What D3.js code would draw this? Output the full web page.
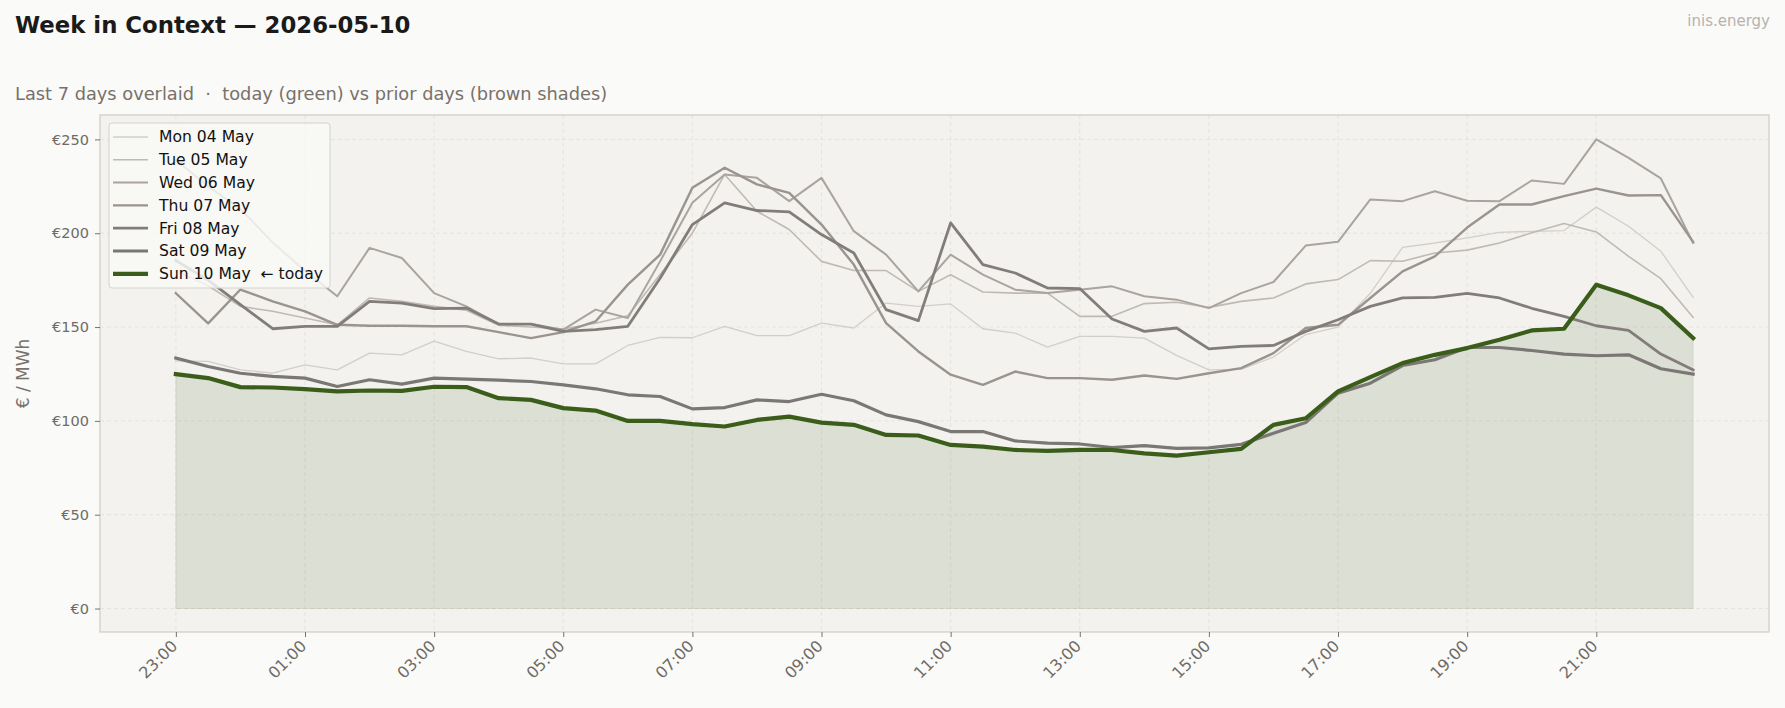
<!DOCTYPE html>
<html>
<head>
<meta charset="utf-8">
<style>
  body {
    margin: 0;
    padding: 0;
    background: #fafaf8;
    font-family: "DejaVu Sans", sans-serif;
  }
  svg { display: block; }
  text { white-space: pre; }
</style>
</head>
<body>
<div id="chart"></div>

<script src="https://cdnjs.cloudflare.com/ajax/libs/d3/7.8.5/d3.min.js"></script>
<script>
  // half-hourly prices, 23:00 -> 22:30 (48 slots)
  const dayLabels = ["Mon 04 May", "Tue 05 May", "Wed 06 May", "Thu 07 May", "Fri 08 May", "Sat 09 May", "Sun 10 May  \u2190 today"];

  const mon = [132, 131.7, 127.2, 125.4, 129.9, 127.2, 136.1, 135.2, 142.5, 137, 133.1, 133.5, 130.4, 130.4, 140.2, 144.5, 144.3, 150.4, 145.4, 145.4, 152.1, 149.5, 162.8, 161, 162.3, 149.1, 146.8, 139.3, 145, 145, 144.1, 134.9, 127.2, 127.5, 134, 146, 150, 168, 192.5, 194.8, 197.5, 200.5, 201, 201.4, 213.9, 203.7, 190.4, 165.8];
  const tue = [180, 172, 161, 158.4, 154.8, 151.2, 165.5, 163.7, 161, 159, 151, 150, 149, 152, 156, 178, 200, 231.3, 211.7, 202, 185, 180.1, 180.1, 169, 177.9, 168.7, 168.1, 168.1, 155.7, 155.7, 162.5, 163.2, 160.5, 163.7, 165.5, 173, 175.3, 185.4, 185.1, 189.5, 191, 194.8, 200.2, 205.2, 200.7, 187.7, 175.8, 155.2];
  const wed = [239, 225, 213, 195, 180, 166.4, 192.2, 186.8, 168.1, 161, 151.6, 151.6, 148.6, 159.3, 154.8, 185, 216.2, 231.3, 229.5, 217.1, 229.5, 201.1, 188.6, 169, 188.6, 177.9, 169.9, 168.1, 169.9, 171.7, 166.4, 164.6, 160.1, 168.1, 174, 193.4, 195.4, 218, 217.1, 222.4, 217.3, 217.1, 228.1, 226.3, 250, 240.2, 229.2, 194.8];
  const thu = [168, 152, 170, 163.7, 158.4, 151.2, 150.7, 150.7, 150.4, 150.4, 147.3, 144.1, 147.3, 153, 172.6, 188.6, 224.2, 234.9, 226, 221.5, 204.6, 183.3, 152.1, 137, 124.6, 119.2, 126.3, 122.8, 122.8, 121.9, 124.2, 122.4, 125.4, 128.1, 136.1, 149.5, 151.2, 165.5, 179.7, 187.7, 203, 215.3, 215.3, 219.8, 223.8, 220.1, 220.3, 195.4];
  const fri = [185.5, 175, 161.9, 149.1, 150.4, 150.4, 163.7, 162.8, 159.8, 160.1, 151.6, 151.6, 147.7, 148.6, 150.4, 176, 204.6, 216.2, 212.1, 211.4, 199.3, 189.5, 159.3, 153.4, 205.5, 183.3, 178.8, 170.8, 170.5, 154.3, 147.7, 149.5, 138.4, 139.7, 140.2, 147.7, 153.9, 161, 165.5, 165.8, 168, 165.5, 160, 155.7, 150.7, 148.2, 135.6, 127.2];
  const sat = [133.5, 129, 125.4, 123.7, 122.8, 118.3, 121.9, 119.6, 122.8, 122.2, 121.7, 121, 119.2, 117.1, 113.9, 113, 106.4, 107.1, 111.2, 110.3, 114.2, 110.7, 103.2, 99.6, 94.3, 94.3, 89.3, 88.1, 87.7, 85.8, 86.8, 85.4, 85.6, 87.5, 93.4, 99.1, 114.8, 120.1, 129.5, 132.6, 139.1, 139.1, 137.5, 135.6, 134.7, 135.2, 127.8, 124.9];
  const sun = [124.9, 122.8, 118, 117.8, 116.9, 115.7, 116.2, 116, 118.2, 118, 112.1, 111.2, 106.8, 105.5, 100, 100, 98.3, 97, 100.5, 102.3, 99.1, 97.9, 92.5, 92.2, 87.2, 86.3, 84.5, 84, 84.5, 84.5, 82.7, 81.5, 83.3, 85.1, 97.9, 101.4, 115.7, 123.3, 130.8, 135.2, 138.8, 143.2, 148.2, 149.1, 172.6, 166.9, 160.1, 144.1];

  const xTickLabels = ["23:00", "01:00", "03:00", "05:00", "07:00", "09:00", "11:00", "13:00", "15:00", "17:00", "19:00", "21:00"];
  const yTicks = [0, 50, 100, 150, 200, 250];

  const series = [mon, tue, wed, thu, fri, sat, sun];
  const colors = ["#d3cec9", "#c0b9b4", "#aaa39f", "#9b938f", "#827d7b", "#7b7775", "#3a5e1a"];
  const widths = [1.3, 1.6, 2.0, 2.4, 2.8, 3.2, 4.2];

  const W = 1785, H = 708;
  const m = { left: 100, right: 1769, top: 115, bottom: 632 };

  const svg = d3.select("#chart").append("svg")
    .attr("width", W)
    .attr("height", H);

  const x = d3.scaleLinear().domain([-2.35, 49.35]).range([m.left, m.right]);
  const y = d3.scaleLinear().domain([-12.5, 263]).range([m.bottom, m.top]);

  // plot background
  svg.append("rect")
    .attr("x", m.left).attr("y", m.top)
    .attr("width", m.right - m.left).attr("height", m.bottom - m.top)
    .attr("fill", "#f3f2ee");

  // grid
  svg.append("g").selectAll("line").data(yTicks).join("line")
    .attr("x1", m.left).attr("x2", m.right)
    .attr("y1", d => y(d)).attr("y2", d => y(d))
    .attr("stroke", "#e2dfda").attr("stroke-width", 0.8)
    .attr("stroke-dasharray", "4,3");
  svg.append("g").selectAll("line").data(xTickLabels).join("line")
    .attr("x1", (d, i) => x(i * 4)).attr("x2", (d, i) => x(i * 4))
    .attr("y1", m.top).attr("y2", m.bottom)
    .attr("stroke", "#e2dfda").attr("stroke-width", 0.8)
    .attr("stroke-dasharray", "4,3");

  // fill under today
  const area = d3.area()
    .x((d, i) => x(i))
    .y0(y(0))
    .y1(d => y(d));
  svg.append("path")
    .datum(sun)
    .attr("d", area)
    .attr("fill", "#3a5e1a")
    .attr("fill-opacity", 0.12)
    .attr("stroke", "#3a5e1a")
    .attr("stroke-opacity", 0.1)
    .attr("stroke-width", 1);

  const line = d3.line()
    .x((d, i) => x(i))
    .y(d => y(d));

  svg.append("g").selectAll("path").data(series).join("path")
    .attr("d", line)
    .attr("fill", "none")
    .attr("stroke", (d, i) => colors[i])
    .attr("stroke-width", (d, i) => widths[i])
    .attr("stroke-linejoin", "round")
    .attr("stroke-linecap", "square");

  // frame
  svg.append("rect")
    .attr("x", m.left).attr("y", m.top)
    .attr("width", m.right - m.left).attr("height", m.bottom - m.top)
    .attr("fill", "none")
    .attr("stroke", "#d0cbc4").attr("stroke-width", 1.2);

  // y axis
  const yAxis = d3.axisLeft(y)
    .tickValues(yTicks)
    .tickSize(5)
    .tickPadding(6)
    .tickFormat(d => "\u20ac" + d);
  const gy = svg.append("g")
    .attr("transform", `translate(${m.left},0)`)
    .call(yAxis);
  gy.select(".domain").remove();
  gy.selectAll(".tick line").attr("stroke", "#77716b");
  gy.selectAll(".tick text")
    .attr("fill", "#6f6a65")
    .attr("font-family", "DejaVu Sans")
    .attr("font-size", 14.5);

  // x axis
  const xAxis = d3.axisBottom(x)
    .tickValues(xTickLabels.map((d, i) => i * 4))
    .tickSize(5)
    .tickFormat((d, i) => xTickLabels[i]);
  const gx = svg.append("g")
    .attr("transform", `translate(0,${m.bottom})`)
    .call(xAxis);
  gx.select(".domain").remove();
  gx.selectAll(".tick line").attr("stroke", "#77716b");
  gx.selectAll(".tick text")
    .attr("fill", "#6f6a65")
    .attr("font-family", "DejaVu Sans")
    .attr("font-size", 16)
    .attr("text-anchor", "end")
    .attr("dy", null)
    .attr("y", 0)
    .attr("transform", "translate(2,15) rotate(-45)");

  // y label
  svg.append("text")
    .attr("transform", `translate(29,${(m.top + m.bottom) / 2}) rotate(-90)`)
    .attr("text-anchor", "middle")
    .attr("fill", "#77716b")
    .attr("font-size", 17)
    .text("\u20ac / MWh");

  // titles
  svg.append("text")
    .attr("x", 15).attr("y", 33)
    .attr("font-size", 22.8)
    .attr("font-weight", "bold")
    .attr("fill", "#1a1a1a")
    .text("Week in Context \u2014 2026-05-10");
  svg.append("text")
    .attr("x", 15).attr("y", 100)
    .attr("font-size", 17.8)
    .attr("fill", "#77716b")
    .text("Last 7 days overlaid  \u00b7  today (green) vs prior days (brown shades)");
  svg.append("text")
    .attr("x", 1770).attr("y", 26)
    .attr("text-anchor", "end")
    .attr("font-size", 15)
    .attr("fill", "#b7b3ae")
    .text("inis.energy");

  // legend
  const lg = svg.append("g").attr("transform", "translate(109,123)");
  lg.append("rect")
    .attr("width", 221).attr("height", 165)
    .attr("rx", 3)
    .attr("fill", "#f9f9f7").attr("fill-opacity", 0.82)
    .attr("stroke", "#d6d2cc").attr("stroke-width", 1);
  const items = lg.selectAll("g.item").data(dayLabels).join("g")
    .attr("class", "item")
    .attr("transform", (d, i) => `translate(0,${14 + i * 22.8})`);
  items.append("line")
    .attr("x1", 4).attr("x2", 39)
    .attr("stroke", (d, i) => colors[i])
    .attr("stroke-width", (d, i) => widths[i]);
  items.append("text")
    .attr("x", 50).attr("dy", "0.35em")
    .attr("font-size", 15.6)
    .attr("fill", "#111")
    .text(d => d);
</script>
</body>
</html>
